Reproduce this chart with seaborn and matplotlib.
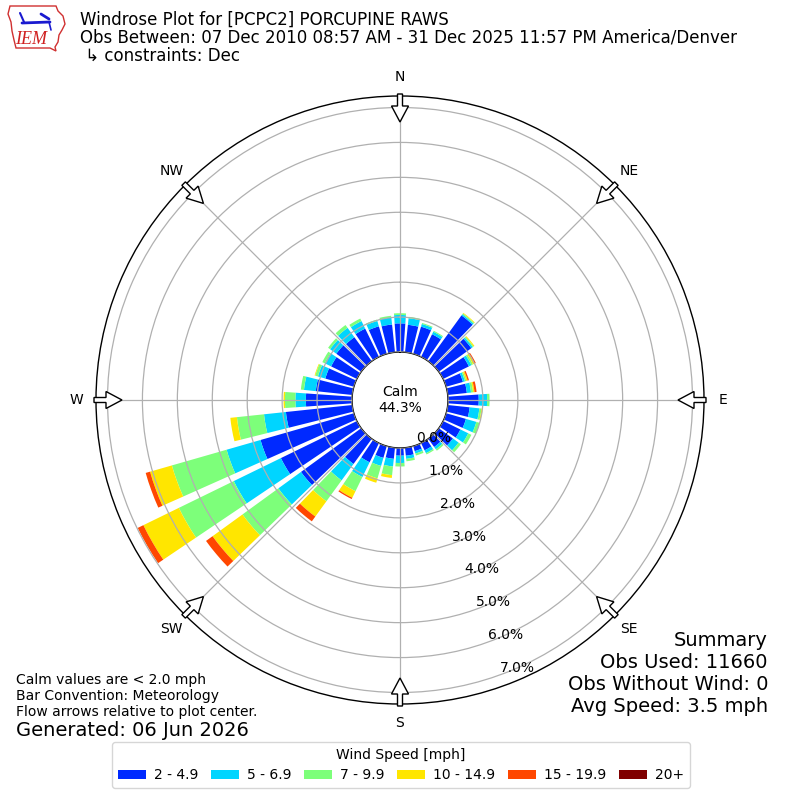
import numpy as np
import matplotlib
matplotlib.use("Agg")
import matplotlib.pyplot as plt
from matplotlib.patches import FancyArrow, Patch, Polygon
from matplotlib.lines import Line2D
import seaborn as sns

# ---------------- data ----------------
directions = [0, 10, 20, 30, 40, 50, 60, 70, 80, 90, 100, 110, 120, 130, 140, 150, 160, 170,
              180, 190, 200, 210, 220, 230, 240, 250, 260, 270, 280, 290, 300, 310, 320, 330, 340, 350]
speed_labels = ["2 - 4.9", "5 - 6.9", "7 - 9.9", "10 - 14.9", "15 - 19.9", "20+"]
pct_2_5 = [0.82, 0.79, 0.81, 0.72, 1.62, 1.15, 0.82, 0.50, 0.55, 0.88, 0.63, 0.59, 0.55, 0.50, 0.29, 0.23, 0.15, 0.23,
           0.22, 0.32, 0.35, 0.61, 0.89, 2.13, 2.42, 2.78, 1.91, 1.32, 1.05, 0.85, 0.82, 0.88, 0.85, 0.90, 0.82, 0.80]
pct_5_7 = [0.24, 0.19, 0.08, 0.08, 0.04, 0.05, 0.08, 0.06, 0.12, 0.24, 0.28, 0.31, 0.25, 0.20, 0.08, 0.09, 0.07, 0.09,
           0.21, 0.22, 0.24, 0.47, 0.58, 0.80, 1.50, 1.01, 0.63, 0.30, 0.34, 0.22, 0.20, 0.22, 0.33, 0.24, 0.16, 0.20]
pct_7_10 = [0.05, 0.04, 0.03, 0.03, 0.03, 0.03, 0.05, 0.04, 0.06, 0.07, 0.06, 0.10, 0.10, 0.08, 0.05, 0.04, 0.06, 0.07,
            0.10, 0.25, 0.37, 0.45, 0.74, 1.27, 1.75, 1.63, 0.78, 0.30, 0.09, 0.08, 0.08, 0.07, 0.10, 0.08, 0.04, 0.05]
pct_10_15 = [0.00, 0.00, 0.00, 0.00, 0.02, 0.03, 0.05, 0.04, 0.04, 0.00, 0.03, 0.00, 0.00, 0.00, 0.00, 0.00, 0.00, 0.00,
             0.00, 0.08, 0.13, 0.21, 0.54, 1.06, 1.13, 0.65, 0.19, 0.04, 0.00, 0.02, 0.00, 0.00, 0.00, 0.00, 0.00, 0.00]
pct_15_20 = [0.00, 0.00, 0.00, 0.00, 0.00, 0.00, 0.04, 0.04, 0.06, 0.00, 0.00, 0.00, 0.00, 0.00, 0.00, 0.00, 0.00, 0.00,
             0.00, 0.00, 0.00, 0.04, 0.17, 0.23, 0.18, 0.13, 0.00, 0.00, 0.00, 0.00, 0.00, 0.00, 0.00, 0.00, 0.00, 0.00]
pct_20p = [0.00, 0.00, 0.00, 0.00, 0.00, 0.00, 0.00, 0.00, 0.00, 0.00, 0.00, 0.00, 0.00, 0.00, 0.00, 0.00, 0.00, 0.00,
           0.00, 0.00, 0.00, 0.00, 0.00, 0.00, 0.00, 0.00, 0.00, 0.00, 0.00, 0.00, 0.00, 0.00, 0.00, 0.00, 0.00, 0.00]
ring_values = [0, 1, 2, 3, 4, 5, 6, 7]
compass_angles = [0, 45, 90, 135, 180, 225, 270, 315]
compass_labels = ["N", "NE", "E", "SE", "S", "SW", "W", "NW"]
calm_pct = 44.3
obs_used = 11660
obs_without_wind = 0
avg_speed = 3.5

title_lines = [
    "Windrose Plot for [PCPC2] PORCUPINE RAWS",
    "Obs Between: 07 Dec 2010 08:57 AM - 31 Dec 2025 11:57 PM America/Denver",
    " \u21b3 constraints: Dec",
]
note_lines = [
    "Calm values are < 2.0 mph",
    "Bar Convention: Meteorology",
    "Flow arrows relative to plot center.",
]
generated_text = "Generated: 06 Jun 2026"

# ---------------- style ----------------
sns.set_style("white")
plt.rcParams["font.family"] = ["DejaVu Sans"]
plt.rcParams["text.color"] = "black"
plt.rcParams["xtick.color"] = "black"
plt.rcParams["ytick.color"] = "black"
plt.rcParams["axes.labelcolor"] = "black"

jet = plt.get_cmap("jet")
colors = sns.color_palette([jet(i / 6.0) for i in range(1, 7)])

W = H = 800.0
def fx(px):
    return px / W
def fy(py):
    return 1.0 - py / H

fig = plt.figure(figsize=(8, 8), dpi=100)
fig.patch.set_facecolor("white")
ax = fig.add_axes([0.12, 0.12, 0.76, 0.76], projection="polar")
ax.set_theta_zero_location("N")
ax.set_theta_direction(-1)

series = [pct_2_5, pct_5_7, pct_7_10, pct_10_15, pct_15_20, pct_20p]
theta = np.deg2rad(np.array(directions, dtype=float))
bottom = np.zeros(len(directions))
for vals, col in zip(series, colors):
    v = np.array(vals, dtype=float)
    ax.bar(theta, v, width=np.deg2rad(8), bottom=bottom, color=col,
           linewidth=0, align="center", zorder=1)
    bottom = bottom + v

rmax = bottom.max() * 1.05
ax.set_ylim(0, rmax)
ax.set_rorigin(-0.1875 * rmax)

ax.set_yticks(ring_values)
ax.set_yticklabels(["%.1f%%" % v for v in ring_values], fontsize=10, color="black")
ax.set_rlabel_position(160)
ax.set_xticks(np.deg2rad(compass_angles))
ax.set_xticklabels(compass_labels, fontsize=10, color="black")
ax.tick_params(axis="x", pad=7, size=0)
ax.grid(True, color="#b0b0b0", linewidth=0.9)
ax.set_axisbelow(False)
for sp in ("polar", "inner"):
    if sp in ax.spines:
        ax.spines[sp].set_color("black")
        ax.spines[sp].set_linewidth(1.0)

ax.text(0.5, 0.5, "Calm\n%.1f%%" % calm_pct, transform=ax.transAxes,
        ha="center", va="center", fontsize=10, zorder=5, color="black")

# flow arrows around the rim
for ang in compass_angles:
    a = np.deg2rad(ang)
    ux, uy = np.sin(a), np.cos(a)
    r0 = 306.0 / W
    L = 28.0 / W
    arr = FancyArrow(0.5 + r0 * ux, 0.5 + r0 * uy, -L * ux, -L * uy,
                     width=5.0 / W, head_width=17.0 / W, head_length=16.0 / W,
                     length_includes_head=True, facecolor="white", edgecolor="black",
                     linewidth=1.0, transform=fig.transFigure, zorder=10)
    fig.patches.append(arr)

# header
for i, line in enumerate(title_lines):
    fig.text(fx(80), fy(20 + 18 * i), line, fontsize=12, ha="left", va="center")

# logo (simplified Iowa outline)
iowa_px = [(10, 6), (56, 6), (58, 11), (63, 16), (65, 24), (62, 30), (59, 35), (58, 42),
           (55, 47), (56, 51), (50, 48), (16, 48), (14, 40), (12, 31), (11, 22), (8, 14)]
fig.patches.append(Polygon([(fx(x), fy(y)) for x, y in iowa_px], closed=True, fill=False,
                           edgecolor="#d03030", linewidth=1.0, transform=fig.transFigure))
fig.add_artist(Line2D([fx(22), fx(50)], [fy(23), fy(22)], color="#1a1ad0", linewidth=2.0,
                      transform=fig.transFigure))
fig.add_artist(Line2D([fx(20), fx(24)], [fy(13), fy(22)], color="#1a1ad0", linewidth=1.5,
                      transform=fig.transFigure))
fig.add_artist(Line2D([fx(41), fx(49)], [fy(14), fy(19)], color="#1a1ad0", linewidth=2.0,
                      transform=fig.transFigure))
fig.add_artist(Line2D([fx(49), fx(51)], [fy(22), fy(30)], color="#1a1ad0", linewidth=1.2,
                      transform=fig.transFigure))
fig.text(fx(31), fy(39), "IEM", fontsize=13, color="#d02020", ha="center", va="center",
         family=["Liberation Serif", "DejaVu Serif"], style="italic")

# bottom left notes
for i, line in enumerate(note_lines):
    fig.text(fx(16), fy(680 + 16 * i), line, fontsize=10, ha="left", va="center")
fig.text(fx(16), fy(730), generated_text, fontsize=14, ha="left", va="center")

# summary
summary_lines = ["Summary", "Obs Used: %d" % obs_used,
                 "Obs Without Wind: %d" % obs_without_wind,
                 "Avg Speed: %.1f mph" % avg_speed]
for i, line in enumerate(summary_lines):
    fig.text(fx(768), fy(640 + 22 * i), line, fontsize=14, ha="right", va="center")

# legend
handles = [Patch(facecolor=c, edgecolor="none", label=l) for c, l in zip(colors, speed_labels)]
fig.legend(handles=handles, ncol=6, loc="lower center", bbox_to_anchor=(fx(401), fy(788)),
           title="Wind Speed [mph]", fontsize=10, title_fontsize=10, borderaxespad=0,
           frameon=True, fancybox=True, edgecolor="#cccccc",
           columnspacing=0.9, handletextpad=0.6)

fig.savefig("out.png", dpi=100, facecolor="white")
